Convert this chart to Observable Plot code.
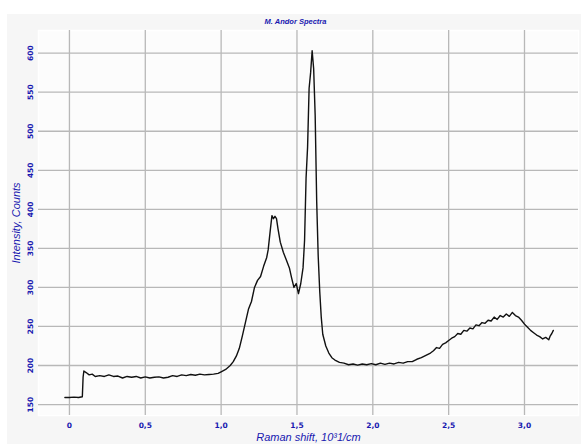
<!DOCTYPE html>
<html>
<head>
<meta charset="utf-8">
<script src="https://cdn.jsdelivr.net/npm/d3@7"></script>
<script src="https://cdn.jsdelivr.net/npm/@observablehq/plot@0.6"></script>
<style>
  html, body { margin: 0; padding: 0; background: #ffffff; }
  #wrap { position: relative; width: 581px; height: 444px; overflow: hidden; }
  #panel { position: absolute; left: 7px; top: 14px; width: 574px; height: 430px; background: #f6f6f6; }
  #chart { position: absolute; left: 0; top: 0; }
</style>
</head>
<body>
<div id="wrap"><div id="panel"></div><div id="chart"></div></div>
<script>
const titleText = "M. Andor Spectra";
const xLabel = "Raman shift, 10³1/cm";
const yLabel = "Intensity, Counts";

const xTicks = [0, 0.5, 1.0, 1.5, 2.0, 2.5, 3.0];
const xTickLabels = ["0", "0,5", "1,0", "1,5", "2,0", "2,5", "3,0"];
const yTicks = [150, 200, 250, 300, 350, 400, 450, 500, 550, 600];

const shift = [
  -0.03, 0.0, 0.03, 0.06, 0.085, 0.09, 0.095, 0.11, 0.13, 0.15, 0.17, 0.2, 0.23, 0.26, 0.29,
  0.32, 0.35, 0.38, 0.41, 0.44, 0.47, 0.5, 0.53, 0.56, 0.59, 0.62, 0.65, 0.68, 0.71, 0.74,
  0.77, 0.8, 0.83, 0.86, 0.89, 0.92, 0.95, 0.98, 1.0, 1.03, 1.06, 1.08, 1.1, 1.12, 1.14,
  1.16, 1.18, 1.2, 1.22, 1.24, 1.26, 1.28, 1.3, 1.31, 1.325, 1.335, 1.345, 1.355, 1.365, 1.375,
  1.39, 1.41, 1.43, 1.45, 1.465, 1.48, 1.495, 1.51, 1.525, 1.54, 1.55, 1.56, 1.57, 1.58, 1.59,
  1.6, 1.61, 1.62, 1.63, 1.64, 1.65, 1.66, 1.67, 1.69, 1.71, 1.73, 1.75, 1.78, 1.81, 1.84,
  1.87, 1.9, 1.93, 1.96, 1.99, 2.02, 2.05, 2.08, 2.11, 2.14, 2.17, 2.2, 2.23, 2.26, 2.29,
  2.32, 2.35, 2.38, 2.4, 2.42, 2.44, 2.46, 2.48, 2.5, 2.52, 2.54, 2.56, 2.58, 2.6, 2.62,
  2.64, 2.66, 2.68, 2.7, 2.72, 2.74, 2.76, 2.78, 2.8, 2.82, 2.84, 2.86, 2.88, 2.9, 2.92,
  2.94, 2.96, 2.98, 3.0, 3.02, 3.04, 3.06, 3.08, 3.1, 3.12, 3.14, 3.16, 3.17, 3.18, 3.19
];
const counts = [
  159, 159, 159.5, 159, 160, 185, 193, 191, 188, 189, 186, 187, 186, 188, 186,
  186.5, 184, 186, 185, 186, 184, 185.5, 184, 185, 185.5, 184, 185, 187, 186, 188,
  187, 188.5, 187.5, 189, 188, 188.5, 189, 190, 192, 195, 200, 205, 212, 222, 238,
  255, 272, 282, 300, 309, 314, 327, 338, 348, 375, 392, 388, 391, 388, 375,
  358, 345, 335, 325, 312, 300, 305, 292, 305, 325, 360, 440, 480, 555, 575,
  603, 580, 520, 410, 340, 295, 262, 240, 225, 216, 210, 207, 204, 203, 201,
  202, 200.5, 202, 201, 202.5, 201, 203, 201.5, 203, 202, 204, 203, 205, 205, 208,
  210, 213, 216, 219, 223, 222, 227, 229, 232, 235, 237, 241, 240, 245, 244,
  248, 247, 252, 251, 255, 254, 258, 257, 262, 259, 264, 262, 266, 263, 268,
  264, 262, 258, 253, 249, 245, 242, 239, 237, 234, 236, 233, 238, 241, 245
];

const data = shift.map((x, i) => ({x, y: counts[i]}));
const xt = xTicks.map((v, i) => ({v, label: xTickLabels[i]}));

const blue = "#1818b0";

const chart = Plot.plot({
  width: 581,
  height: 444,
  marginLeft: 38,
  marginRight: 3,
  marginTop: 30,
  marginBottom: 29,
  style: {background: "transparent", overflow: "visible"},
  x: {domain: [-0.204, 3.356], axis: null},
  y: {domain: [136, 629], axis: null},
  marks: [
    Plot.frame({fill: "#fcfcfc", stroke: "#ffffff", strokeWidth: 1.5}),
    Plot.gridX(xTicks, {stroke: "#b8b8b8", strokeOpacity: 1, strokeWidth: 1.3}),
    Plot.gridY(yTicks, {stroke: "#b8b8b8", strokeOpacity: 1, strokeWidth: 1.3}),
    Plot.line(data, {x: "x", y: "y", stroke: "#111", strokeWidth: 1.4}),
    Plot.text(xt, {x: "v", text: "label", frameAnchor: "bottom", dy: 10, lineAnchor: "middle",
      fill: blue, fontWeight: "bold", fontSize: 7.5, fontFamily: "DejaVu Sans"}),
    Plot.text(yTicks, {y: d => d, text: d => String(d), frameAnchor: "left", dx: -8, rotate: -90,
      textAnchor: "middle", lineAnchor: "middle", fill: blue, fontWeight: "bold", fontSize: 7.5,
      fontFamily: "DejaVu Sans"}),
    Plot.text([titleText], {frameAnchor: "top", dx: -13, dy: -9, lineAnchor: "middle",
      fill: blue, fontWeight: "bold", fontStyle: "italic", fontSize: 7.5, fontFamily: "Liberation Sans"}),
    Plot.text([xLabel], {frameAnchor: "bottom", dy: 22, lineAnchor: "middle",
      fill: blue, fontStyle: "italic", fontSize: 11, fontFamily: "Liberation Sans"}),
    Plot.text([yLabel], {frameAnchor: "left", dx: -22, rotate: -90, textAnchor: "middle", lineAnchor: "middle",
      fill: blue, fontStyle: "italic", fontSize: 11, fontFamily: "Liberation Sans"})
  ]
});
document.getElementById("chart").appendChild(chart);
</script>
</body>
</html>
